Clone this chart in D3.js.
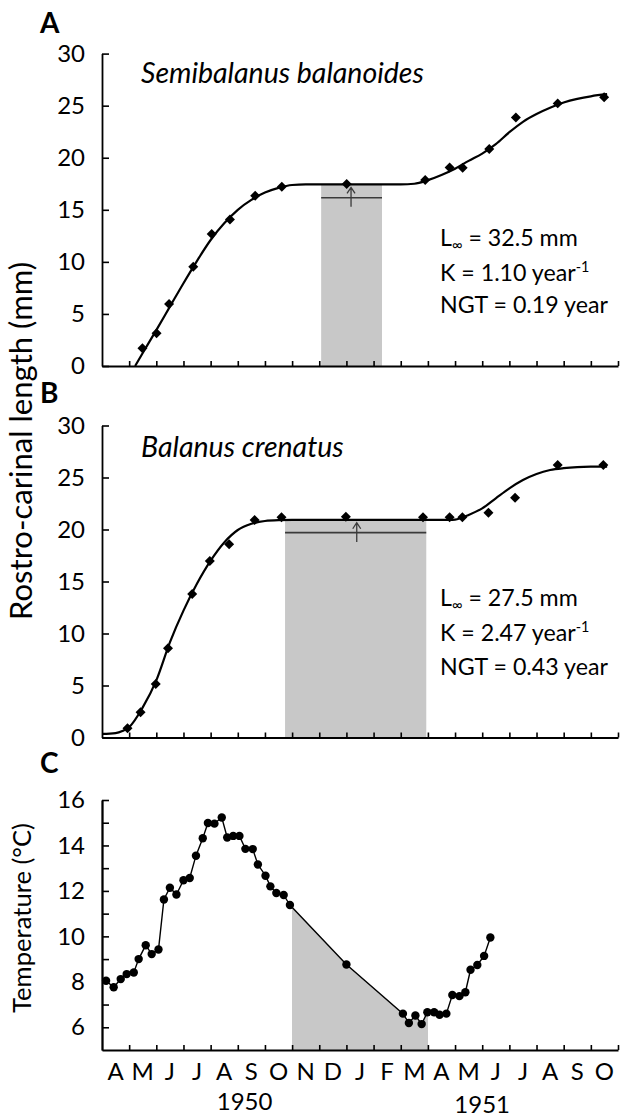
<!DOCTYPE html>
<html><head><meta charset="utf-8">
<script src="https://cdn.jsdelivr.net/npm/d3@7"></script>
<style>
body{margin:0;background:#fff}
svg{display:block}
text{font-family:Lato,"Open Sans",sans-serif;fill:#000}
</style></head>
<body><svg id="chart" width="621" height="1118"></svg>
<script>
// ---------- data ----------
// x values are months since 1 April 1950 (0 = start of April 1950, 19 = end of Oct 1951)
const monthLabels = ["A","M","J","J","A","S","O","N","D","J","F","M","A","M","J","J","A","S","O"];
const yearLabels = ["1950","1951"];
const yearAt = [5.25, 14.0];

// Panel A: Semibalanus balanoides
const aObsMonth = [1.49,2.01,2.47,3.36,4.04,4.71,5.64,6.62,9.01,11.9,12.8,13.28,14.26,15.24,16.78,18.49];
const aObsLen   = [1.70,3.14,5.95,9.53,12.67,14.08,16.34,17.21,17.47,17.85,19.07,19.04,20.83,23.87,25.22,25.8];
const aFitMonth = [1.22,1.5,2,2.5,3,3.5,4,4.5,5,5.5,6,6.5,7,7.5,11,11.5,12,12.5,13,13.5,14,14.5,15,15.5,16,16.5,17,17.5,18,18.6];
const aFitLen   = [0,1.25,3.45,5.7,7.95,10.1,12.1,13.7,15.0,15.95,16.65,17.1,17.38,17.44,17.44,17.5,17.85,18.35,18.95,19.7,20.4,21.3,22.45,23.45,24.2,24.8,25.3,25.65,25.9,26.1];
const aNoGrowth = [8.07, 10.31];
const aBarLen = 16.15;
const aArrow = [9.17, 15.3, 17.15];
const aTitle = "Semibalanus balanoides";
const aStats = ["32.5 mm","1.10 year","0.19 year"];

// Panel B: Balanus crenatus
const bObsMonth = [0.94,1.42,1.98,2.43,3.32,3.97,4.68,5.62,6.61,8.98,11.82,12.8,13.27,14.23,15.21,16.78,18.46];
const bObsLen   = [0.88,2.42,5.14,8.57,13.8,16.97,18.57,20.91,21.17,21.23,21.17,21.17,21.17,21.62,23.06,26.2,26.2];
const bFitMonth = [0,0.5,0.75,1,1.5,2,2.5,3,3.5,4,4.5,5,5.5,6,6.5,7,12.8,13,13.5,14,14.5,15,15.5,16,16.5,17,17.5,18,18.6];
const bFitLen   = [0.34,0.42,0.62,1.0,2.9,5.5,9.15,12.2,14.8,17.0,18.75,19.95,20.55,20.82,20.9,20.92,20.92,20.95,21.4,22.03,23.0,23.96,24.76,25.34,25.72,25.9,26.0,26.04,26.05];
const bNoGrowth = [6.74, 11.94];
const bBarLen = 19.7;
const bArrow = [9.38, 18.8, 20.65];
const bTitle = "Balanus crenatus";
const bStats = ["27.5 mm","2.47 year","0.43 year"];

// Panel C: temperature
const cMonth = [0.15,0.43,0.69,0.91,1.17,1.35,1.61,1.83,2.08,2.28,2.50,2.74,3.00,3.23,3.46,3.71,3.90,4.14,4.41,4.61,4.83,5.06,5.28,5.55,5.74,6.02,6.20,6.42,6.69,6.92,9.00,11.08,11.30,11.54,11.77,11.98,12.23,12.43,12.68,12.90,13.16,13.38,13.57,13.82,14.07,14.30];
const cTemp  = [8.05,7.76,8.12,8.34,8.41,9.0,9.61,9.22,9.42,11.62,12.14,11.84,12.47,12.57,13.55,14.32,14.99,14.96,15.23,14.35,14.42,14.42,13.85,13.84,13.16,12.67,12.2,11.91,11.82,11.38,8.76,6.6,6.19,6.52,6.14,6.66,6.66,6.55,6.6,7.42,7.37,7.54,8.53,8.74,9.14,9.95];
const cShade = [7.0, 12.0];

const lenTicks = [0,5,10,15,20,25,30];
const tempTicks = [6,8,10,12,14,16];
const tempMinor = [7,9,11,13,15];

// ---------- drawing ----------
const svg = d3.select("#chart");
const x = d3.scaleLinear().domain([0,19]).range([102,618]);
const monthTicks = d3.range(1,20);
const grey = "#c8c8c8", dark = "#3a3a3a";
const tickFont = 24;

// scale a text's font so that its rendered length matches the target length
function fitText(sel, target){
  const fs = parseFloat(sel.attr("font-size"));
  const w = sel.node().getComputedTextLength();
  const nf = fs*target/w;
  sel.attr("font-size", nf);
  sel.selectAll("tspan").each(function(){
    const t = d3.select(this); const f = t.attr("font-size");
    if (f) t.attr("font-size", parseFloat(f)*nf/fs);
  });
  return nf;
}

function xAxis(g, y0){
  const ax = g.append("g").attr("transform",`translate(0,${y0})`)
    .call(d3.axisBottom(x).tickValues(monthTicks).tickSize(-5).tickSizeOuter(0).tickFormat(""));
  ax.select(".domain").attr("stroke","#000").attr("stroke-width",1.8);
  ax.selectAll(".tick line").attr("stroke","#000").attr("stroke-width",1.6);
}
function yAxis(g, y, ticks, labelled){
  const ax = g.append("g").attr("transform",`translate(${x(0)},0)`)
    .call(d3.axisLeft(y).tickValues(ticks).tickSize(-7).tickSizeOuter(0).tickPadding(17)
      .tickFormat(labelled ? d3.format("d") : ""));
  ax.select(".domain").attr("stroke","#000").attr("stroke-width",1.8);
  ax.selectAll(".tick line").attr("stroke","#000").attr("stroke-width",1.6);
  ax.selectAll("text").attr("font-size",tickFont).attr("font-family","Lato").attr("fill","#000");
  return ax;
}
const diamond = d3.symbol(d3.symbolSquare, 50);

let titleFont = null, statFont = null;
function growthPanel(opt){
  const g = svg.append("g");
  const y = d3.scaleLinear().domain([0,30]).range(opt.range);
  g.append("rect").attr("x",x(opt.shade[0])).attr("width",x(opt.shade[1])-x(opt.shade[0]))
    .attr("y",y(opt.plateau)).attr("height",y(0)-y(opt.plateau)).attr("fill",grey);
  g.append("line").attr("x1",x(opt.shade[0])).attr("x2",x(opt.shade[1]))
    .attr("y1",y(opt.bar)).attr("y2",y(opt.bar)).attr("stroke",dark).attr("stroke-width",1.6);
  const ax = x(opt.arrow[0]), ay0 = y(opt.arrow[1]), ay1 = y(opt.arrow[2]);
  g.append("path").attr("d",`M${ax},${ay0}L${ax},${ay1}M${ax-4},${ay1+6}L${ax},${ay1}L${ax+4},${ay1+6}`)
    .attr("fill","none").attr("stroke",dark).attr("stroke-width",1.3);
  yAxis(g, y, lenTicks, true);
  xAxis(g, y(0));
  const fit = opt.fitX.map((d,i)=>[d,opt.fitY[i]]);
  g.append("path").datum(fit)
    .attr("d", d3.line().x(d=>x(d[0])).y(d=>y(d[1])).curve(d3.curveMonotoneX))
    .attr("fill","none").attr("stroke","#000").attr("stroke-width",2.2);
  g.selectAll(".obs").data(opt.obsX.map((d,i)=>[d,opt.obsY[i]])).join("path")
    .attr("d",diamond).attr("fill","#000")
    .attr("transform",d=>`translate(${x(d[0])},${y(d[1])}) rotate(45)`);
  const tt = g.append("text").attr("x",141).attr("y",opt.titleY).attr("font-size",24).attr("font-style","italic").text(opt.title);
  if (titleFont === null) titleFont = fitText(tt, 283); else tt.attr("font-size", titleFont);
  const st = g.append("g");
  const t1 = st.append("text").attr("x",440).attr("y",opt.statsY[0]).attr("font-size",22);
  t1.append("tspan").text("L");
  t1.append("tspan").attr("font-size",14).attr("dy",4).text("\u221E");
  t1.append("tspan").attr("dy",-4).text(" = "+opt.stats[0]);
  const t2 = st.append("text").attr("x",440).attr("y",opt.statsY[1]).attr("font-size",22);
  t2.append("tspan").text("K = "+opt.stats[1]);
  t2.append("tspan").attr("font-size",13).attr("dy",-9).text("-1");
  const t3 = st.append("text").attr("x",440).attr("y",opt.statsY[2]).attr("font-size",22).text("NGT = "+opt.stats[2]);
  if (statFont === null) statFont = fitText(t3, 168); else t3.attr("font-size", statFont);
  [t1,t2].forEach(t=>{
    t.attr("font-size", statFont);
    t.selectAll("tspan").each(function(){const s=d3.select(this); if (s.attr("font-size")) s.attr("font-size", statFont*0.62);});
  });
  g.append("text").attr("x",40).attr("y",opt.letterY).attr("font-size",28).attr("font-weight","bold").text(opt.letter);
}

growthPanel({range:[366,53.6], shade:aNoGrowth, plateau:17.44, bar:aBarLen, arrow:aArrow,
  fitX:aFitMonth, fitY:aFitLen, obsX:aObsMonth, obsY:aObsLen, title:aTitle, titleY:83,
  stats:aStats, statsY:[246,281,313], letter:"A", letterY:33});
growthPanel({range:[737.5,425.5], shade:bNoGrowth, plateau:20.9, bar:bBarLen, arrow:bArrow,
  fitX:bFitMonth, fitY:bFitLen, obsX:bObsMonth, obsY:bObsLen, title:bTitle, titleY:457,
  stats:bStats, statsY:[606,641,675], letter:"B", letterY:403});

// Panel C
{
  const g = svg.append("g");
  const y = d3.scaleLinear().domain([5,16]).range([1050,800]);
  const pts = cMonth.map((d,i)=>[d,cTemp[i]]);
  g.append("clipPath").attr("id","shadeClip").append("rect")
    .attr("x",x(cShade[0])).attr("width",x(cShade[1])-x(cShade[0])).attr("y",790).attr("height",270);
  g.append("path").datum(pts).attr("clip-path","url(#shadeClip)")
    .attr("d",d3.area().x(d=>x(d[0])).y0(y(5)).y1(d=>y(d[1])))
    .attr("fill",grey);
  yAxis(g, y, tempMinor, false);
  yAxis(g, y, tempTicks, true);
  xAxis(g, y(5));
  g.append("path").datum(pts).attr("d",d3.line().x(d=>x(d[0])).y(d=>y(d[1])))
    .attr("fill","none").attr("stroke","#000").attr("stroke-width",1.4);
  g.selectAll(".pt").data(pts).join("circle").attr("cx",d=>x(d[0])).attr("cy",d=>y(d[1])).attr("r",4.2).attr("fill","#000");
  g.append("text").attr("x",40).attr("y",773).attr("font-size",28).attr("font-weight","bold").text("C");
  g.selectAll(".ml").data(monthLabels).join("text")
    .attr("x",(d,i)=>x(i+0.5)).attr("y",1080).attr("text-anchor","middle").attr("font-size",tickFont).text(d=>d);
  g.selectAll(".yl").data(yearLabels).join("text")
    .attr("x",(d,i)=>x(yearAt[i])).attr("y",(d,i)=>i===0?1110:1113).attr("text-anchor","middle").attr("font-size",tickFont).text(d=>d);
  const tl = svg.append("text").attr("transform","translate(31,918) rotate(-90)").attr("text-anchor","middle")
    .attr("font-size",24).text("Temperature (°C)");
  fitText(tl, 190);
}
const rl = svg.append("text").attr("transform","translate(32,441) rotate(-90)").attr("text-anchor","middle")
  .attr("font-size",26).text("Rostro-carinal length (mm)");
fitText(rl, 358);
</script>
</body></html>
